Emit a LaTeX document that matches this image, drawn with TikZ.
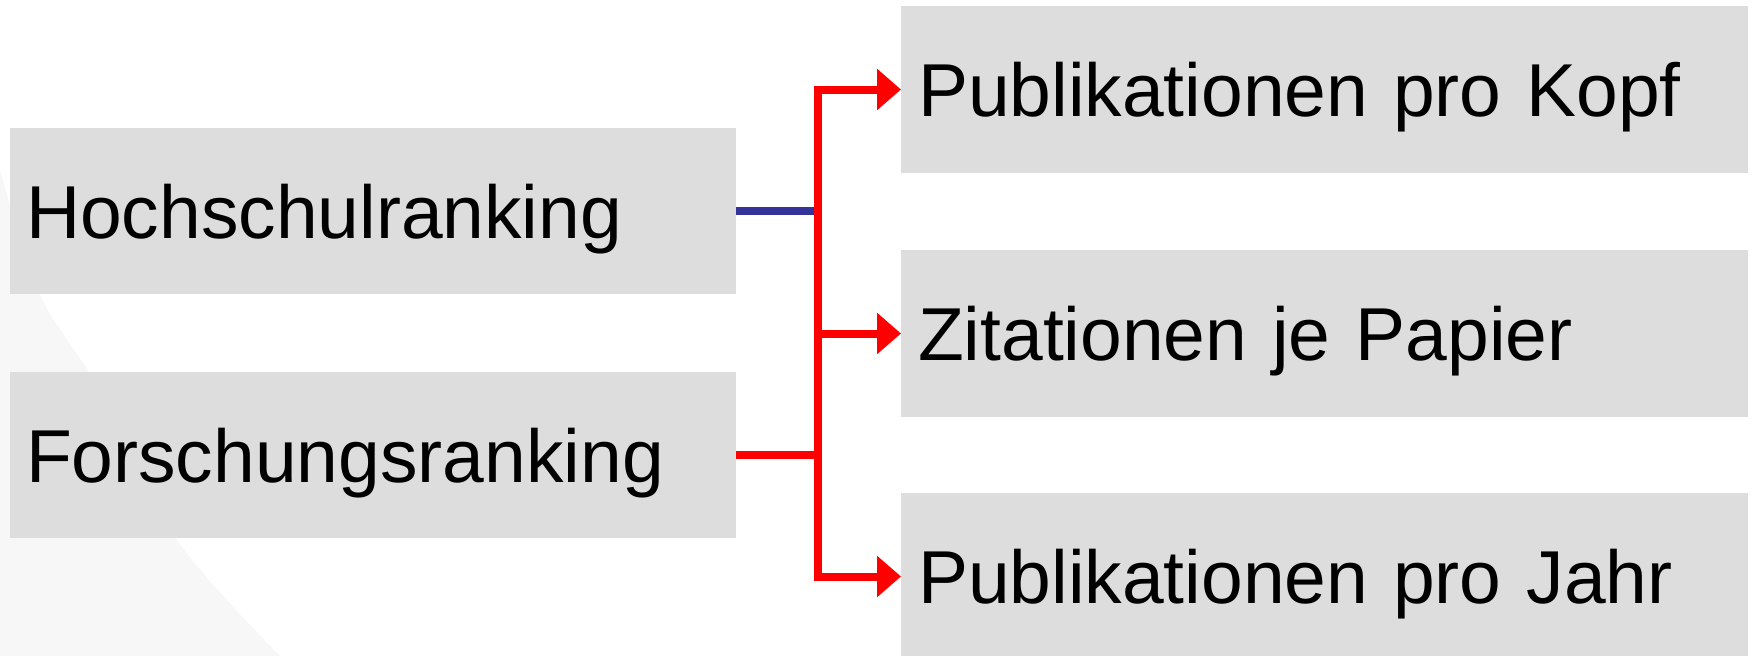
\documentclass[tikz,border=0pt]{standalone}
\usepackage{fontspec}
\setmainfont{Liberation Sans}
\usetikzlibrary{arrows.meta}
\definecolor{boxgray}{HTML}{DDDDDD}
\definecolor{bggray}{HTML}{F7F7F7}
\definecolor{lineblue}{HTML}{333399}
\definecolor{linered}{HTML}{FF0000}
\begin{document}
\begin{tikzpicture}[x=1pt,y=-1pt,
  box/.style={fill=boxgray, draw=none, outer sep=0pt, inner ysep=0pt,
    anchor=north west, align=left,
    font=\fontsize{75}{90}\selectfont, text height=56pt, text depth=2pt},
  leftbox/.style={box, minimum width=726pt, minimum height=166pt,
    inner xsep=16pt, text width=694pt},
  rightbox/.style={box, minimum width=847pt, minimum height=167pt,
    inner xsep=17pt, text width=813pt},
  conn/.style={line width=8pt, line join=miter},
  redtip/.style={-{Triangle[length=24pt,width=40pt]}},
]
\useasboundingbox (0,0) rectangle (1754,656);
% faint background shape
\fill[bggray] plot[smooth] coordinates {(0,170) (40,295) (100,390) (177,540) (280,656)} -- (0,656) -- cycle;

% boxes
\node[leftbox] (H) at (10,128) {Hochschulranking};
\node[leftbox] (F) at (10,372) {Forschungsranking};
\node[rightbox] (P1) at (901,6) {Publikationen pro Kopf};
\node[rightbox] (P2) at (901,250) {Zitationen je Papier};
\node[rightbox] (P3) at (901,493) {Publikationen pro Jahr};

\coordinate (spine) at (818,0);

% connectors
\draw[conn, lineblue] (H.east) -- (spine |- H.east);
\draw[conn, linered] (F.east) -- (spine |- F.east);
\draw[conn, linered, {Triangle[length=24pt,width=40pt]}-{Triangle[length=24pt,width=40pt]}]
  (P3.west) -- (spine |- P3.west) -- (spine |- P1.west) -- (P1.west);
\draw[conn, linered, redtip] (spine |- P2.west) -- (P2.west);
\end{tikzpicture}
\end{document}
